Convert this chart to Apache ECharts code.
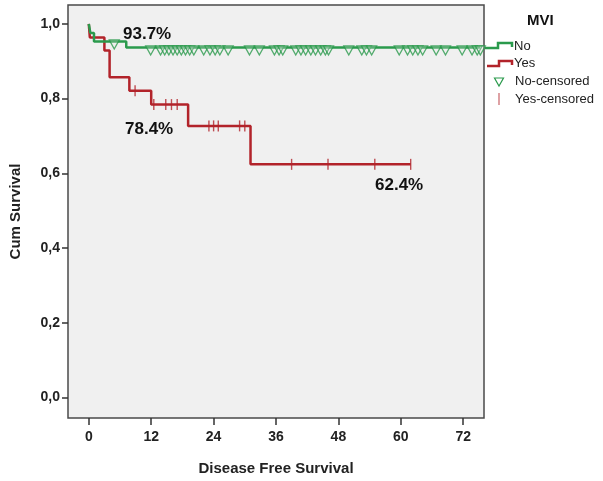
<!DOCTYPE html>
<html>
<head>
<meta charset="utf-8">
<script src="https://cdn.jsdelivr.net/npm/echarts@6/dist/echarts.min.js"></script>
<style>
html,body{margin:0;padding:0;background:#fff;}
#c{width:603px;height:481px;}
</style>
</head>
<body>
<div id="c"></div>
<script>
// ---- data ----
const xTicks = [0, 12, 24, 36, 48, 60, 72];
const yTicks = [0, 0.2, 0.4, 0.6, 0.8, 1.0];
// Kaplan-Meier step points [time, cumulative survival]
const noCurve = [[0, 1.0], [0.3, 0.976], [1.0, 0.953], [7.2, 0.937], [75.3, 0.937]];
const yesCurve = [[0, 1.0], [0.2, 0.964], [3.0, 0.929], [4.0, 0.857], [7.8, 0.821], [12.0, 0.784], [19.1, 0.727], [31.1, 0.624], [61.9, 0.624]];
// censored times
const noCensored = [4.9, 11.9, 13.8, 14.6, 15.4, 16.2, 17.0, 17.8, 18.6, 19.4, 20.2, 22.1, 23.3, 24.3, 25.2, 26.8, 30.9, 32.8, 35.7, 36.6, 37.3, 39.8, 40.8, 41.7, 42.7, 43.6, 44.6, 45.5, 46.1, 50.0, 52.5, 53.4, 54.4, 59.7, 61.3, 62.3, 63.3, 64.2, 66.8, 68.6, 71.8, 73.7, 74.7, 75.3];
const yesCensored = [8.9, 12.5, 14.8, 15.9, 17.0, 23.1, 24.0, 24.9, 29.0, 30.0, 39.0, 46.0, 55.0, 61.9];
const labels = ['93.7%', '78.4%', '62.4%'];
const groups = ['No', 'Yes', 'No-censored', 'Yes-censored'];

const GREEN = '#2a9a4c';
const RED = '#b2232a';

function survAt(curve, t) {
  let s = curve[0][1];
  for (const p of curve) { if (p[0] <= t) s = p[1]; }
  return s;
}

const chart = echarts.init(document.getElementById('c'), null, {renderer: 'canvas'});
const tickFont = {fontFamily: 'Arial, Liberation Sans', fontWeight: 'bold', fontSize: 14, color: '#222'};

const option = {
  animation: false,
  backgroundColor: '#fff',
  grid: {left: 63, top: 5, width: 421, height: 421, show: true, backgroundColor: '#f0f0f0', borderColor: '#4a4a4a', borderWidth: 1.5},
  xAxis: {
    type: 'value', min: -4, max: 76,
    name: 'Disease Free Survival', nameLocation: 'middle', nameGap: 43,
    nameTextStyle: {fontFamily: 'Arial, Liberation Sans', fontWeight: 'bold', fontSize: 15, color: '#222'},
    axisLine: {show: false, onZero: false},
    axisTick: {show: true, inside: false, customValues: xTicks, length: 7, lineStyle: {color: '#333', width: 1.5}},
    axisLabel: Object.assign({customValues: xTicks, margin: 12}, tickFont),
    splitLine: {show: false}
  },
  yAxis: {
    type: 'value', min: -0.0552, max: 1.0507,
    name: 'Cum Survival', nameLocation: 'middle', nameGap: 45, nameRotate: 90,
    nameTextStyle: {fontFamily: 'Arial, Liberation Sans', fontWeight: 'bold', fontSize: 15, color: '#222'},
    axisLine: {show: false, onZero: false},
    axisTick: {show: true, inside: false, customValues: yTicks, length: 6, lineStyle: {color: '#333', width: 1.5}},
    axisLabel: Object.assign({customValues: yTicks, margin: 8, formatter: v => v.toFixed(1).replace('.', ',')}, tickFont),
    splitLine: {show: false}
  },
  series: [
    {type: 'line', name: 'No', step: 'end', data: noCurve, symbol: 'none', lineStyle: {color: GREEN, width: 2.5}, z: 3},
    {type: 'line', name: 'Yes', step: 'end', data: yesCurve, symbol: 'none', lineStyle: {color: RED, width: 2.5}, z: 2},
    {type: 'scatter', name: 'No-censored', data: noCensored.map(t => [t, survAt(noCurve, t)]),
      symbol: 'triangle', symbolRotate: 180, symbolSize: [10, 9], symbolOffset: [0, 3],
      itemStyle: {color: 'rgba(240,240,240,0.3)', borderColor: GREEN, borderWidth: 1.3}, z: 4},
    {type: 'scatter', name: 'Yes-censored', data: yesCensored.map(t => [t, survAt(yesCurve, t)]),
      symbol: 'rect', symbolSize: [1.4, 11],
      itemStyle: {color: RED, opacity: 0.8}, z: 4}
  ],
  graphic: [
    {type: 'text', left: 123, top: 26, style: {text: labels[0], font: 'bold 17px Arial, Liberation Sans', fill: '#111'}},
    {type: 'text', left: 125, top: 121, style: {text: labels[1], font: 'bold 17px Arial, Liberation Sans', fill: '#111'}},
    {type: 'text', left: 375, top: 177, style: {text: labels[2], font: 'bold 17px Arial, Liberation Sans', fill: '#111'}},
    // legend
    {type: 'text', left: 527, top: 13, style: {text: 'MVI', font: 'bold 15px Arial, Liberation Sans', fill: '#111'}},
    {type: 'polyline', shape: {points: [[485, 48], [498, 48], [498, 43], [512, 43], [512, 47]]}, style: {stroke: GREEN, lineWidth: 2.5, fill: null}},
    {type: 'text', left: 514, top: 40, style: {text: groups[0], font: '13px Arial, Liberation Sans', fill: '#222'}},
    {type: 'polyline', shape: {points: [[487, 66], [499, 66], [499, 61], [512, 61], [512, 65]]}, style: {stroke: RED, lineWidth: 2.5, fill: null}},
    {type: 'text', left: 514, top: 57, style: {text: groups[1], font: '13px Arial, Liberation Sans', fill: '#222'}},
    {type: 'polygon', shape: {points: [[494.5, 78], [503.5, 78], [499, 86]]}, style: {stroke: GREEN, lineWidth: 1.2, fill: 'none'}},
    {type: 'text', left: 515, top: 75, style: {text: groups[2], font: '13px Arial, Liberation Sans', fill: '#222'}},
    {type: 'line', shape: {x1: 499, y1: 93, x2: 499, y2: 105}, style: {stroke: '#d07a7e', lineWidth: 1.4}},
    {type: 'text', left: 515, top: 93, style: {text: groups[3], font: '13px Arial, Liberation Sans', fill: '#222'}}
  ]
};
chart.setOption(option);
</script>
</body>
</html>
